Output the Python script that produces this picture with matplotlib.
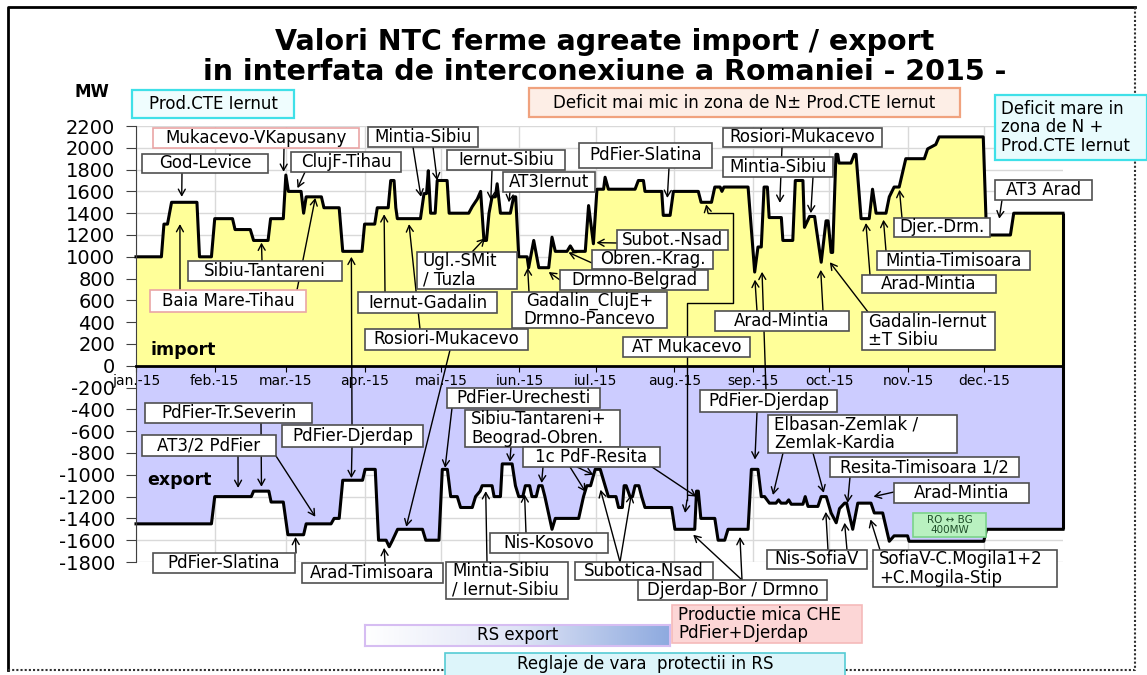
import numpy as np
import matplotlib.pyplot as plt
from matplotlib.lines import Line2D
from matplotlib.patches import Rectangle
from matplotlib.colors import LinearSegmentedColormap

W, H = 1147, 675

# import: zi din an (2015) si MW
imp_zi = [0, 10, 11, 12.4, 14, 24, 25, 29.7, 31, 38, 39, 45, 46.3, 52, 53, 58, 59, 60, 65, 66,
          67, 73, 74, 80, 81.4, 89, 90, 94, 95, 99.3, 100.3, 101.6, 102.3, 102.9, 112, 113.4,
          114.4, 115.1, 116, 117.8, 118.6, 122.5, 123.3, 131, 132.4, 134.4, 135.7, 137, 138, 139,
          140.2, 141.5, 142.2, 143.5, 147.4, 148.7, 149.5, 150.7, 154, 154.6, 156.6, 158.6, 162.5,
          163.8, 165.1, 169.7, 171, 172.3, 176.9, 178.2, 180.1, 181.5, 184.1, 184.7, 186, 196.5,
          197.8, 199.8, 200.4, 207, 207.6, 210.3, 211.6, 221.4, 222.5, 226.6, 227.9, 230, 230.7,
          231.5, 241, 243.6, 244.9, 246.2, 247.3, 248.6, 249.3, 254.1, 254.7, 258.6, 259.6, 262.6,
          263.2, 265.2, 267.2, 267.8, 269.8, 271.7, 272.5, 273.7, 274.3, 275.6, 276.3, 276.8, 281.5,
          282.8, 283.5, 285.5, 288.7, 290, 291.4, 295.3, 296.6, 298.5, 300.5, 303.1, 310.4, 311.7,
          314.9, 316.2, 333.6, 334.9, 344.3, 345.6, 365]
imp_mw = [1000, 1000, 1300, 1300, 1500, 1500, 1000, 1000, 1350, 1350, 1250, 1250, 1150, 1150, 1350,
          1350, 1750, 1600, 1600, 1400, 1550, 1550, 1450, 1450, 1050, 1050, 1300, 1300, 1450, 1450,
          1700, 1700, 1450, 1350, 1350, 1580, 1580, 1790, 1400, 1400, 1700, 1700, 1400, 1400, 1460,
          1530, 1600, 1150, 1150, 1400, 1550, 1550, 1670, 1400, 1400, 1550, 1550, 1000, 1000, 900,
          1150, 900, 900, 1180, 1050, 1050, 1100, 1050, 1050, 1470, 1120, 1620, 1620, 1730, 1620,
          1620, 1700, 1700, 1600, 1600, 1380, 1380, 1600, 1600, 1500, 1500, 1640, 1640, 1600, 1640,
          1640, 860, 1090, 1090, 1640, 1640, 1360, 1360, 1150, 1150, 1700, 1700, 1270, 1370, 1370,
          1270, 950, 1330, 1330, 1040, 1040, 1940, 1940, 1860, 1860, 1940, 1940, 1350, 1350, 1620,
          1400, 1400, 1550, 1640, 1640, 1900, 1900, 1990, 2030, 2100, 2100, 1200, 1200, 1400, 1400]

# export
exp_zi = [0, 29.7, 31, 45.4, 46.3, 52.3, 53.2, 58, 59.8, 66, 67, 76.8, 78, 80, 81.4, 89.2, 90.2,
          94.2, 95.5, 98.5, 99.7, 101, 103, 112.8, 114.1, 119.3, 120.6, 122.6, 123.9, 126.5, 127.8,
          132.4, 133.7, 135.5, 136.3, 140.2, 141, 143.5, 144.2, 148.1, 149.4, 150.7, 152.3, 153.3,
          155, 155.9, 157.6, 158.6, 159.9, 161, 163.8, 165.1, 174.3, 176.2, 177.5, 179, 180.8,
          182.8, 184.7, 186, 189, 190, 191.5, 192.2, 193, 194.5, 195.5, 196.5, 198, 199.1, 200.4,
          210.9, 212.2, 220, 220.7, 221.4, 222.4, 227.9, 229.2, 231.8, 233.1, 241, 242.3, 244.9,
          246.2, 247.5, 249.4, 252, 253, 254, 256, 257, 258, 262.6, 263.5, 264.6, 268.5, 269.8,
          271.8, 273.7, 275.7, 277, 279, 279.8, 282.2, 284.2, 289.4, 290.7, 294, 296.6, 298.5,
          303.8, 304.4, 333.8, 334.9, 365]
exp_mw = [-1450, -1450, -1200, -1200, -1150, -1150, -1250, -1250, -1550, -1550, -1450, -1450, -1400,
          -1400, -1050, -1050, -950, -950, -1600, -1600, -1660, -1600, -1500, -1500, -1600, -1600,
          -950, -950, -1200, -1200, -1300, -1300, -1200, -1150, -1100, -1100, -1200, -1200, -900,
          -900, -1100, -1200, -1200, -1100, -1100, -1200, -1200, -1100, -1100, -1200, -1500, -1400,
          -1400, -1200, -1100, -1100, -950, -950, -1100, -1200, -1200, -1300, -1300, -1100, -1100,
          -1200, -1200, -1100, -1100, -1200, -1300, -1300, -1500, -1500, -1150, -1150, -1400, -1400,
          -1600, -1600, -1500, -1500, -950, -950, -1200, -1200, -1260, -1260, -1230, -1260, -1260,
          -1230, -1270, -1270, -1200, -1290, -1290, -1200, -1200, -1350, -1440, -1310, -1260, -1260,
          -1500, -1260, -1260, -1350, -1350, -1610, -1560, -1560, -1610, -1610, -1500, -1500]

luni = ['jan.-15', 'feb.-15', 'mar.-15', 'apr.-15', 'mai.-15', 'iun.-15', 'iul.-15', 'aug.-15',
        'sep.-15', 'oct.-15', 'nov.-15', 'dec.-15']
zile_luna = [31, 28, 31, 30, 31, 30, 31, 31, 30, 31, 30, 31]
valori_y = list(range(-1800, 2201, 200))

# etichete: text, caseta (px in imaginea de referinta), sageti (start px, varf in date)
etichete = [
    ('God-Levice', (142, 154, 268, 173), [((182, 173), (18.0, 1550))]),
    ('ClujF-Tihau', (291, 152, 401, 172), [((305, 172), (63.6, 1630))]),
    ('Sibiu-Tantareni', (188, 261, 342, 281), [((262, 261), (49.4, 1130))]),
    ('Iernut-Gadalin', (358, 292, 497, 313), [((385, 292), (97.7, 1390))]),
    ('Rosiori-Mukacevo', (365, 329, 528, 350), [((420, 329), (107.5, 1300)), ((450, 350), (106.4, -1477))]),
    ('Mintia-Sibiu', (368, 127, 478, 147), [((413, 147), (112.2, 1550)), ((433, 147), (118.6, 1700))]),
    ('Iernut-Sibiu', (447, 150, 565, 170), [((492, 170), (139.7, 1520))]),
    ('AT3Iernut', (503, 172, 595, 192), [((510, 192), (146.8, 1500))]),
    ('Ugl.-SMit\n/ Tuzla', (417, 252, 517, 289), [((472, 252), (137.4, 1170))]),
    ('Gadalin_ClujE+\nDrmno-Pancevo', (512, 292, 667, 328), [((529, 292), (154.2, 900))]),
    ('Drmno-Belgrad', (560, 270, 708, 290), [((560, 280), (162.5, 860))]),
    ('Obren.-Krag.', (592, 250, 713, 269), [((592, 263), (170.3, 1040))]),
    ('Subot.-Nsad', (617, 230, 728, 250), [((617, 243), (181.3, 1130))]),
    ('PdFier-Slatina', (579, 143, 712, 168), [((669, 168), (209.2, 1540))]),
    ('AT Mukacevo', (623, 337, 750, 357), [((708, 213), (224.5, 1480)), ((687, 500), (216.2, -1350))]),
    ('Rosiori-Mukacevo', (723, 128, 882, 147), [((782, 147), (253.5, 1495))]),
    ('Mintia-Sibiu', (723, 157, 833, 177), [((813, 177), (265.7, 1400))]),
    ('Arad-Mintia', (715, 311, 849, 331), [((757, 311), (243.7, 790)), ((823, 311), (269.6, 880))]),
    ('Gadalin-Iernut\n±T Sibiu', (862, 312, 995, 350), [((868, 312), (273.2, 950))]),
    ('Arad-Mintia', (862, 275, 996, 293), [((870, 275), (287.4, 1310))]),
    ('Mintia-Timisoara', (877, 251, 1030, 270), [((886, 251), (294.3, 1340))]),
    ('Djer.-Drm.', (894, 218, 990, 237), [((902, 218), (300.6, 1615))]),
    ('AT3 Arad', (995, 180, 1092, 200), [((1002, 200), (339.9, 1350))]),
    ('PdFier-Tr.Severin', (145, 403, 312, 423), [((261, 423), (49.4, -1110))]),
    ('AT3/2 PdFier', (142, 435, 276, 456), [((238, 456), (40.2, -1120)), ((276, 456), (70.6, -1385))]),
    ('PdFier-Djerdap', (282, 425, 423, 447), [((352, 425), (84.8, 1000)), ((352, 447), (84.8, -1030))]),
    ('PdFier-Slatina', (153, 553, 295, 573), [((296, 553), (62.8, -1570))]),
    ('Arad-Timisoara', (302, 563, 443, 583), [((385, 563), (97.7, -1670))]),
    ('PdFier-Urechesti', (447, 388, 600, 408), [((452, 408), (121.7, -936))]),
    ('Sibiu-Tantareni+\nBeograd-Obren.', (465, 410, 620, 447), [((511, 447), (147.2, -880))]),
    ('1c PdF-Resita', (523, 447, 660, 467), [((543, 467), (159.7, -1075)), ((570, 467), (177.0, -1156)),
                                            ((577, 467), (180.1, -1000)), ((652, 467), (220.6, -1200))]),
    ('Nis-Kosovo', (490, 533, 608, 553), [((526, 533), (153.0, -1180))]),
    ('Mintia-Sibiu\n/ Iernut-Sibiu', (446, 562, 568, 599), [((487, 562), (137.7, -1150))]),
    ('Subotica-Nsad', (575, 562, 713, 580), [((620, 562), (182.9, -1137)), ((620, 562), (195.0, -1183))]),
    ('Djerdap-Bor / Drmno', (638, 580, 827, 600), [((742, 580), (219.4, -1550)), ((742, 580), (237.8, -1570))]),
    ('PdFier-Djerdap', (700, 390, 837, 412), [((757, 412), (243.7, -860)), ((766, 390), (246.5, 862))]),
    ('Elbasan-Zemlak /\nZemlak-Kardia', (768, 415, 957, 453), [((783, 453), (250.8, -1185)), ((813, 453), (270.8, -1165))]),
    ('Resita-Timisoara 1/2', (830, 457, 1019, 477), [((850, 477), (280.2, -1257))]),
    ('Arad-Mintia', (894, 483, 1029, 503), [((894, 492), (290.4, -1200))]),
    ('Nis-SofiaV', (767, 550, 867, 569), [((828, 550), (271.6, -1340)), ((847, 550), (279.0, -1440))]),
    ('SofiaV-C.Mogila1+2\n+C.Mogila-Stip', (873, 550, 1057, 587), [((880, 550), (289.2, -1410))]),
]
roz = {'Mukacevo-VKapusany': ((153, 128, 359, 148), [((284, 148), (58.1, 1780))]),
       'Baia Mare-Tihau': ((150, 290, 306, 312), [((180, 290), (17.3, 1300)), ((297, 290), (70.6, 1540))])}
aliniat_stanga = {'Ugl.-SMit\n/ Tuzla', 'Gadalin-Iernut\n±T Sibiu', 'Sibiu-Tantareni+\nBeograd-Obren.',
                  'Mintia-Sibiu\n/ Iernut-Sibiu', 'Elbasan-Zemlak /\nZemlak-Kardia',
                  'SofiaV-C.Mogila1+2\n+C.Mogila-Stip'}


def fx(x):
    return x / W


def fy(y):
    return 1 - y / H


fig = plt.figure(figsize=(W / 100, H / 100), dpi=100)
ax = fig.add_axes([fx(136), fy(562), fx(1063) - fx(136), fy(126) - fy(562)])


def caseta(text, rect, fc='white', ec='#505050', ha='center', size=12, lw=1.2, ty=None, **kw):
    x0, y0, x1, y1 = rect
    fig.add_artist(Rectangle((fx(x0), fy(y1)), fx(x1) - fx(x0), fy(y0) - fy(y1),
                             transform=fig.transFigure, fc=fc, ec=ec, lw=lw, zorder=4))
    x = (x0 + x1) / 2 if ha == 'center' else x0 + 6
    y = (y0 + y1) / 2 if ty is None else ty
    fig.text(fx(x), fy(y), text, ha=ha, va='center', fontsize=size,
             linespacing=1.05, zorder=5, **kw)


def sageata(start, tip):
    ax.annotate('', xy=tip, xycoords='data', xytext=(fx(start[0]), fy(start[1])),
                textcoords='figure fraction', annotation_clip=False, zorder=6,
                arrowprops=dict(arrowstyle='->,head_length=0.45,head_width=0.25', color='black',
                                lw=1, mutation_scale=10, shrinkA=0, shrinkB=0))


start_luni = np.concatenate([[0], np.cumsum(zile_luna)[:-1]])

# grila sub suprafete
ax.hlines(valori_y, 0, 365, color='#d9d9d9', lw=1, zorder=0.3)
ax.vlines(start_luni, -1800, 2200, color='#d9d9d9', lw=1, zorder=0.3)

# grafic
ax.fill_between(imp_zi, 0, imp_mw, color='#ffff99', lw=0, zorder=1)
ax.fill_between(exp_zi, 0, exp_mw, color='#ccccff', lw=0, zorder=1)
ax.plot(imp_zi, imp_mw, color='black', lw=2.2, zorder=2, clip_on=False)
ax.plot(exp_zi, exp_mw, color='black', lw=2.2, zorder=2, clip_on=False)
ax.vlines([imp_zi[-1]], 0, [imp_mw[-1]], color='black', lw=2.2, zorder=2, clip_on=False)
ax.vlines([exp_zi[-1]], [exp_mw[-1]], 0, color='black', lw=2.2, zorder=2, clip_on=False)

ax.set_xlim(0, 365)
ax.set_ylim(-1800, 2200)
ax.set_xticks(start_luni)
ax.set_xticklabels(luni, fontsize=9.8)
ax.set_yticks(valori_y)
ax.set_yticklabels([str(v) for v in valori_y], fontsize=14)
ax.spines['top'].set_visible(False)
ax.spines['right'].set_visible(False)
ax.spines['bottom'].set_position(('data', 0))
ax.spines['bottom'].set_linewidth(2)
ax.spines['left'].set_color('#404040')
ax.tick_params(axis='y', length=7, pad=8, color='#404040')
ax.tick_params(axis='x', length=4, pad=2)

ax.text(fx(151), fy(350), 'import', transform=fig.transFigure, fontsize=12.5, fontweight='bold',
        va='center', zorder=7)
ax.text(fx(147), fy(480), 'export', transform=fig.transFigure, fontsize=12.5, fontweight='bold',
        va='center', zorder=7)

# sageti si casete
for text, rect, sageti in etichete:
    for s, t in sageti:
        sageata(s, t)
    caseta(text, rect, ha='left' if text in aliniat_stanga else 'center')
for text, (rect, sageti) in roz.items():
    for s, t in sageti:
        sageata(s, t)
    caseta(text, rect, ec='#eaa6a6')

# conector AT Mukacevo
fig.add_artist(Line2D([fx(v) for v in (708, 733, 733, 687, 687)],
                      [fy(v) for v in (213, 213, 303, 303, 500)],
                      transform=fig.transFigure, color='black', lw=1, zorder=3))

caseta('Prod.CTE Iernut', (132, 90, 294, 118), fc='#effdfe', ec='#3fe0e8', lw=1.6)
caseta('Deficit mai mic in zona de N± Prod.CTE Iernut', (529, 88, 960, 117), fc='#fdeee6',
       ec='#f0a27e', lw=1.6)
caseta('Deficit mare in\nzona de N +\nProd.CTE Iernut', (995, 95, 1147, 160), fc='#e8fbfd',
       ec='#3fe0e8', ha='left', lw=1.6)
caseta('RO ↔ BG\n400MW', (913, 513, 986, 537), fc='#b9f1c0', ec='#7bd38a', size=7.5,
       color='#1f4f2a')
caseta('Productie mica CHE\nPdFier+Djerdap', (672, 605, 862, 643), fc='#fcd6d6', ec='#f5baba',
       ha='left')
caseta('Reglaje de vara  protectii in RS', (445, 653, 845, 695), fc='#ddf5fa', ec='#55ccd4', ty=664)

# RS export cu gradient
ax_rs = fig.add_axes([fx(365), fy(646), fx(670) - fx(365), fy(625) - fy(646)])
grad = LinearSegmentedColormap.from_list('rs', ['#ffffff', '#dfe4f6', '#8eaadf'])
ax_rs.imshow(np.linspace(0, 1, 256)[None, :], aspect='auto', cmap=grad)
ax_rs.set_xticks([])
ax_rs.set_yticks([])
for s in ax_rs.spines.values():
    s.set_color('#d6bdf2')
    s.set_linewidth(1.5)
ax_rs.text(0.5, 0.5, 'RS export', transform=ax_rs.transAxes, ha='center', va='center', fontsize=12)

# titlu
fig.text(fx(605), fy(50), 'Valori NTC ferme agreate import / export', ha='center', va='baseline',
         fontsize=20.5, fontweight='bold')
fig.text(fx(605), fy(80), 'in interfata de interconexiune a Romaniei - 2015 -', ha='center',
         va='baseline', fontsize=20.5, fontweight='bold')
fig.text(fx(92), fy(92), 'MW', ha='center', va='center', fontsize=12, fontweight='bold')

# chenar pagina
fig.add_artist(Line2D([fx(8), fx(8), fx(1135)], [fy(670), fy(7), fy(7)], transform=fig.transFigure,
                      color='black', lw=2, zorder=1))
fig.add_artist(Line2D([fx(8), fx(1135), fx(1135)], [fy(670), fy(670), fy(7)],
                      transform=fig.transFigure, color='#303030', lw=1.5, ls=(0, (1, 1)), zorder=1))

fig.savefig('out.png', dpi=100)
